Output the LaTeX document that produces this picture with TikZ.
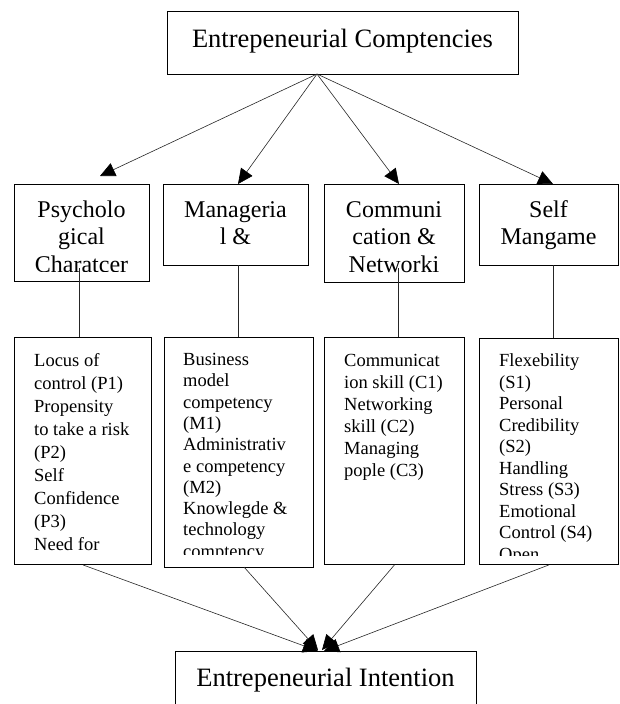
\documentclass[tikz,border=0pt]{standalone}
\usepackage{fontspec}
\setmainfont{Liberation Serif}
\usetikzlibrary{arrows.meta}
\newcommand\myc[1]{\hbox{\makebox[0pt]{#1}}}
\newcommand\myl[1]{\hbox{#1}}
\begin{document}
\begin{tikzpicture}[x=1pt,y=-1pt,
  box/.style={draw=black, line width=0.9pt, inner sep=0pt, anchor=north west},
  conn/.style={draw=black!85, line width=0.6pt},
  arr/.style={conn, -{Triangle[length=15pt,width=14pt,color=black]}},
  txt/.style={inner sep=0pt, anchor=base west},
  ctxt/.style={inner sep=0pt, anchor=base},
  big/.style={font=\fontsize{26.5}{30}\selectfont},
  mid/.style={font=\fontsize{24}{27.5}\selectfont},
  small/.style={font=\fontsize{18.5}{23}\selectfont}]
\useasboundingbox (0,0) rectangle (619,704);

% top box
\node[box, minimum width=351pt, minimum height=63pt] (top) at (167,11) {};
\node[ctxt, big] (toptxt) at (342.5,47) {Entrepeneurial Comptencies};

% level 2 boxes
\node[box, minimum width=135pt, minimum height=97pt] (b1) at (14,184) {};
\node[box, minimum width=145pt, minimum height=81pt] (b2) at (163,184) {};
\node[box, minimum width=140pt, minimum height=98pt] (b3) at (324,184) {};
\node[box, minimum width=139pt, minimum height=81pt] (b4) at (479,184) {};

\begin{scope}
\clip (14,184) rectangle (149,271);
\node[ctxt, mid] (t1) at (81.5,217) {\vtop{\baselineskip=27.5pt \myc{Psycholo}\myc{gical}\myc{Charatcer}}};
\end{scope}
\node[ctxt, mid] (t2) at (235.5,217) {\vtop{\baselineskip=27.5pt \myc{Manageria}\myc{l \&}}};
\node[ctxt, mid] (t3) at (394,217) {\vtop{\baselineskip=27.5pt \myc{Communi}\myc{cation \&}\myc{Networki}}};
\node[ctxt, mid] (t4) at (548.5,217) {\vtop{\baselineskip=27.5pt \myc{Self}\myc{Mangame}}};

% leaf boxes
\node[box, minimum width=137pt, minimum height=227pt] (leaf1) at (14,337) {};
\node[box, minimum width=149pt, minimum height=230pt] (leaf2) at (164,337) {};
\node[box, minimum width=140pt, minimum height=227pt] (leaf3) at (324,337) {};
\node[box, minimum width=139pt, minimum height=226pt] (leaf4) at (479,338) {};

\node[txt, small] (l1) at (34,366) {\vtop{\baselineskip=23pt
  \myl{Locus of}\myl{control (P1)}\myl{Propensity}\myl{to take a risk}\myl{(P2)}\myl{Self}\myl{Confidence}\myl{(P3)}\myl{Need for}}};
\begin{scope}
\clip (164,337) rectangle (313,554);
\node[txt, small] (l2) at (183,365.5) {\vtop{\baselineskip=21.3pt
  \myl{Business}\myl{model}\myl{competency}\myl{(M1)}\myl{Administrativ}\myl{e competency}\myl{(M2)}\myl{Knowlegde \&}\myl{technology}\myl{comptency}}};
\end{scope}
\node[txt, small] (l3) at (344,366) {\vtop{\baselineskip=22pt
  \myl{Communicat}\myl{ion skill (C1)}\myl{Networking}\myl{skill (C2)}\myl{Managing}\myl{pople (C3)}}};
\begin{scope}
\clip (479,338) rectangle (619,555);
\node[txt, small] (l4) at (499,366.5) {\vtop{\baselineskip=21.5pt
  \myl{Flexebility}\myl{(S1)}\myl{Personal}\myl{Credibility}\myl{(S2)}\myl{Handling}\myl{Stress (S3)}\myl{Emotional}\myl{Control (S4)}\myl{Open}}};
\end{scope}

% bottom box
\node[box, minimum width=301pt, minimum height=80pt] (bot) at (175,651) {};
\node[ctxt, big] (bottxt) at (325.5,686) {Entrepeneurial Intention};

% top arrows
\coordinate (o) at (317,74);
\coordinate (a1) at (100,176);
\coordinate (a2) at (238,184);
\coordinate (a3) at (399,184);
\coordinate (a4) at (553,184);
\draw[arr] (o) -- (a1);
\draw[arr] (o) -- (a2);
\draw[arr] (o) -- (a3);
\draw[arr] (o) -- (a4);

% vertical links
\coordinate (s1) at (79,268);
\coordinate (s2) at (238,265);
\coordinate (s3) at (398.5,268);
\coordinate (s4) at (553,265);
\draw[conn] (s1) -- (s1 |- leaf1.north);
\draw[conn] (s2) -- (s2 |- leaf2.north);
\draw[conn] (s3) -- (s3 |- leaf3.north);
\draw[conn] (s4) -- (s4 |- leaf4.north);

% bottom arrows
\coordinate (f2) at (244,567);
\coordinate (e1) at (318,651);
\coordinate (e2) at (318,650);
\coordinate (e3) at (322,650);
\coordinate (e4) at (324,651);
\draw[arr] (leaf1.south) -- (e1);
\draw[arr] (f2) -- (e2);
\draw[arr] (leaf3.south) -- (e3);
\draw[arr] (leaf4.south) -- (e4);
\end{tikzpicture}
\end{document}
